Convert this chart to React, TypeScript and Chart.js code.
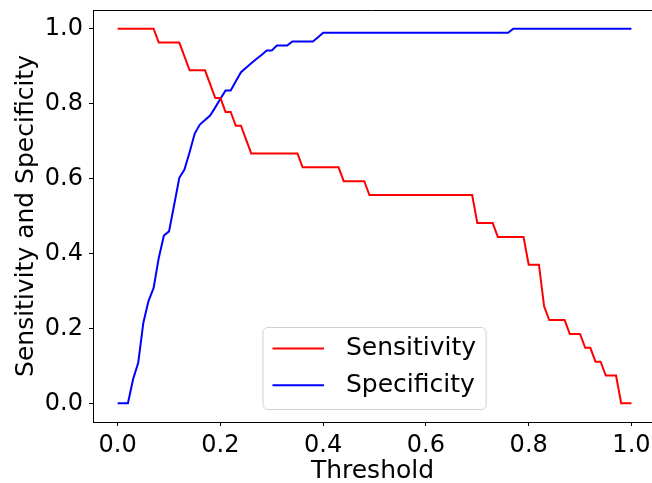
import React, { useEffect, useRef } from 'react';
import { Chart, registerables } from 'chart.js';

Chart.register(...registerables);

const thresholds = [
  0.0, 0.01, 0.02, 0.03, 0.04, 0.05, 0.06, 0.07, 0.08, 0.09,
  0.1, 0.11, 0.12, 0.13, 0.14, 0.15, 0.16, 0.17, 0.18, 0.19,
  0.2, 0.21, 0.22, 0.23, 0.24, 0.25, 0.26, 0.27, 0.28, 0.29,
  0.3, 0.31, 0.32, 0.33, 0.34, 0.35, 0.36, 0.37, 0.38, 0.39,
  0.4, 0.41, 0.42, 0.43, 0.44, 0.45, 0.46, 0.47, 0.48, 0.49,
  0.5, 0.51, 0.52, 0.53, 0.54, 0.55, 0.56, 0.57, 0.58, 0.59,
  0.6, 0.61, 0.62, 0.63, 0.64, 0.65, 0.66, 0.67, 0.68, 0.69,
  0.7, 0.71, 0.72, 0.73, 0.74, 0.75, 0.76, 0.77, 0.78, 0.79,
  0.8, 0.81, 0.82, 0.83, 0.84, 0.85, 0.86, 0.87, 0.88, 0.89,
  0.9, 0.91, 0.92, 0.93, 0.94, 0.95, 0.96, 0.97, 0.98, 0.99,
  1.0,
];

const sensitivity = [
  1.0, 1.0, 1.0, 1.0, 1.0, 1.0, 1.0, 1.0, 0.963, 0.963,
  0.963, 0.963, 0.963, 0.926, 0.889, 0.889, 0.889, 0.889, 0.852, 0.815,
  0.815, 0.778, 0.778, 0.741, 0.741, 0.704, 0.667, 0.667, 0.667, 0.667,
  0.667, 0.667, 0.667, 0.667, 0.667, 0.667, 0.63, 0.63, 0.63, 0.63,
  0.63, 0.63, 0.63, 0.63, 0.593, 0.593, 0.593, 0.593, 0.593, 0.556,
  0.556, 0.556, 0.556, 0.556, 0.556, 0.556, 0.556, 0.556, 0.556, 0.556,
  0.556, 0.556, 0.556, 0.556, 0.556, 0.556, 0.556, 0.556, 0.556, 0.556,
  0.481, 0.481, 0.481, 0.481, 0.444, 0.444, 0.444, 0.444, 0.444, 0.444,
  0.37, 0.37, 0.37, 0.259, 0.222, 0.222, 0.222, 0.222, 0.185, 0.185,
  0.185, 0.148, 0.148, 0.111, 0.111, 0.074, 0.074, 0.074, 0.0, 0.0,
  0.0,
];

const specificity = [
  0.0, 0.0, 0.0, 0.064, 0.108, 0.215, 0.273, 0.308, 0.388, 0.448,
  0.459, 0.53, 0.602, 0.624, 0.67, 0.72, 0.744, 0.756, 0.768, 0.79,
  0.813, 0.835, 0.835, 0.86, 0.884, 0.896, 0.908, 0.919, 0.93, 0.942,
  0.942, 0.955, 0.955, 0.955, 0.966, 0.966, 0.966, 0.966, 0.966, 0.977,
  0.989, 0.989, 0.989, 0.989, 0.989, 0.989, 0.989, 0.989, 0.989, 0.989,
  0.989, 0.989, 0.989, 0.989, 0.989, 0.989, 0.989, 0.989, 0.989, 0.989,
  0.989, 0.989, 0.989, 0.989, 0.989, 0.989, 0.989, 0.989, 0.989, 0.989,
  0.989, 0.989, 0.989, 0.989, 0.989, 0.989, 0.989, 1.0, 1.0, 1.0,
  1.0, 1.0, 1.0, 1.0, 1.0, 1.0, 1.0, 1.0, 1.0, 1.0,
  1.0, 1.0, 1.0, 1.0, 1.0, 1.0, 1.0, 1.0, 1.0, 1.0,
  1.0,
];

const seriesNames = ['Sensitivity', 'Specificity'];
const seriesColors = ['#ff0000', '#0000ff'];
const xTickValues = [0.0, 0.2, 0.4, 0.6, 0.8, 1.0];
const yTickValues = [0.0, 0.2, 0.4, 0.6, 0.8, 1.0];
const xAxisTitle = 'Threshold';
const yAxisTitle = 'Sensitivity and Specificity';

const FONT = "'DejaVu Sans', sans-serif";
const TICK_SIZE = 24;
const LABEL_SIZE = 25;
const LEGEND_SIZE = 25;

const framePlugin = {
  id: 'frameTop',
  afterDraw(chart: any) {
    const { ctx, chartArea } = chart;
    ctx.save();
    ctx.strokeStyle = '#000';
    ctx.lineWidth = 1;
    ctx.beginPath();
    ctx.moveTo(chartArea.left, Math.round(chartArea.top) + 0.5);
    ctx.lineTo(chartArea.right, Math.round(chartArea.top) + 0.5);
    ctx.stroke();
    ctx.restore();
  },
};

const legendPlugin = {
  id: 'innerLegend',
  afterDraw(chart: any) {
    const { ctx, chartArea } = chart;
    const xs = chart.scales.x;
    const ds = chart.data.datasets;
    ctx.save();
    ctx.font = `${LEGEND_SIZE}px ${FONT}`;
    let maxW = 0;
    ds.forEach((d: any) => {
      maxW = Math.max(maxW, ctx.measureText(d.label).width);
    });
    const w = 83 + maxW + 10;
    const h = 82;
    const cx = xs.getPixelForValue(0.5);
    const x0 = cx - w / 2;
    const y0 = chartArea.bottom - 12.5 - h;
    const r = 5;
    ctx.beginPath();
    ctx.moveTo(x0 + r, y0);
    ctx.lineTo(x0 + w - r, y0);
    ctx.arcTo(x0 + w, y0, x0 + w, y0 + r, r);
    ctx.lineTo(x0 + w, y0 + h - r);
    ctx.arcTo(x0 + w, y0 + h, x0 + w - r, y0 + h, r);
    ctx.lineTo(x0 + r, y0 + h);
    ctx.arcTo(x0, y0 + h, x0, y0 + h - r, r);
    ctx.lineTo(x0, y0 + r);
    ctx.arcTo(x0, y0, x0 + r, y0, r);
    ctx.closePath();
    ctx.fillStyle = 'rgba(255,255,255,0.8)';
    ctx.fill();
    ctx.strokeStyle = '#d0d0d0';
    ctx.lineWidth = 1;
    ctx.stroke();
    ds.forEach((d: any, i: number) => {
      const cy = y0 + 21 + i * 36.7;
      ctx.strokeStyle = d.borderColor;
      ctx.lineWidth = 2;
      ctx.beginPath();
      ctx.moveTo(x0 + 9.5, cy);
      ctx.lineTo(x0 + 61, cy);
      ctx.stroke();
      ctx.fillStyle = '#000';
      ctx.textBaseline = 'middle';
      ctx.textAlign = 'left';
      ctx.fillText(d.label, x0 + 83, cy);
    });
    ctx.restore();
  },
};

export default function App() {
  const ref = useRef<HTMLCanvasElement>(null);

  useEffect(() => {
    document.body.style.margin = '0';
    const canvas = ref.current;
    if (!canvas) return;
    const datasets = [sensitivity, specificity].map((vals, i) => ({
      label: seriesNames[i],
      data: thresholds.map((t, j) => ({ x: t, y: vals[j] })),
      borderColor: seriesColors[i],
      backgroundColor: seriesColors[i],
      borderWidth: 2,
      pointRadius: 0,
      tension: 0,
      fill: false,
    }));
    const chart = new Chart(canvas, {
      type: 'line',
      data: { datasets },
      plugins: [framePlugin, legendPlugin],
      options: {
        animation: false,
        responsive: false,
        devicePixelRatio: 1,
        layout: { padding: { top: 10, left: 0, right: 0, bottom: 0 } },
        plugins: {
          legend: { display: false },
          tooltip: { enabled: false },
        },
        scales: {
          x: {
            type: 'linear',
            min: -0.048,
            max: 1.04,
            afterFit: (s: any) => {
              s.height = 61;
              s.paddingLeft = 0;
              s.paddingRight = 0;
            },
            afterBuildTicks: (s: any) => {
              s.ticks = xTickValues.map((v) => ({ value: v }));
            },
            ticks: {
              autoSkip: false,
              maxRotation: 0,
              color: '#000',
              padding: 5,
              font: { family: FONT, size: TICK_SIZE },
              callback: (v: any) => Number(v).toFixed(1),
            },
            grid: {
              drawOnChartArea: false,
              drawTicks: true,
              tickLength: 4,
              color: '#000',
              lineWidth: 1,
            },
            border: { display: true, color: '#000', width: 1 },
            title: {
              display: true,
              text: xAxisTitle,
              color: '#000',
              font: { family: FONT, size: LABEL_SIZE, lineHeight: 1 },
              padding: { top: 0, bottom: -1 },
            },
          },
          y: {
            type: 'linear',
            min: -0.05,
            max: 1.05,
            afterFit: (s: any) => {
              s.width = 93;
              s.paddingTop = 0;
              s.paddingBottom = 0;
            },
            afterBuildTicks: (s: any) => {
              s.ticks = yTickValues.map((v) => ({ value: v }));
            },
            ticks: {
              autoSkip: false,
              color: '#000',
              padding: 6,
              font: { family: FONT, size: TICK_SIZE },
              callback: (v: any) => Number(v).toFixed(1),
            },
            grid: {
              drawOnChartArea: false,
              drawTicks: true,
              tickLength: 4,
              color: '#000',
              lineWidth: 1,
            },
            border: { display: true, color: '#000', width: 1 },
            title: {
              display: true,
              text: yAxisTitle,
              color: '#000',
              font: { family: FONT, size: LABEL_SIZE, lineHeight: 1 },
              padding: { top: 14, bottom: 0 },
            },
          },
        },
      },
    });
    return () => chart.destroy();
  }, []);

  return (
    <div style={{ width: 652, height: 483, position: 'relative', overflow: 'hidden' }}>
      <canvas ref={ref} width={652} height={483} style={{ display: 'block', width: 652, height: 483 }} />
    </div>
  );
}
